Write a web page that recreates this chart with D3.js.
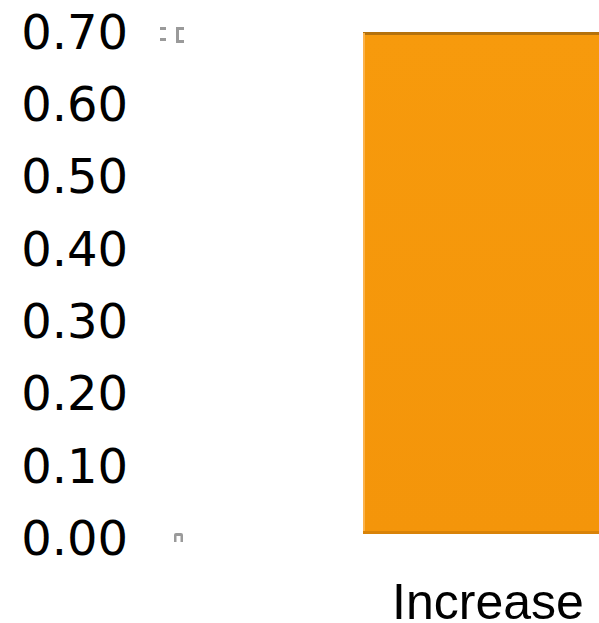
<!DOCTYPE html>
<html>
<head>
<meta charset="utf-8">
<script src="https://cdn.jsdelivr.net/npm/d3@7"></script>
<style>
  html, body { margin: 0; padding: 0; background: #fff; overflow: hidden; }
  svg { display: block; }
</style>
</head>
<body>
<svg id="chart" width="599" height="623"></svg>
<script>
// Data
const categories = ["Increase"];
const values = [0.70];
const tickValues = [0, 0.1, 0.2, 0.3, 0.4, 0.5, 0.6, 0.7];

const svg = d3.select("#chart");

// Bar scale and a slightly wider scale for the tick labels
const y = d3.scaleLinear().domain([0, 0.7]).range([533, 33]);
const yLabel = d3.scaleLinear().domain([0, 0.7]).range([542, 35.5]);
const x = d3.scaleBand().domain(categories).range([363, 613]).padding(0);

const defs = svg.append("defs");
const g = defs.append("linearGradient").attr("id", "barGrad").attr("x1", 0).attr("x2", 0).attr("y1", 0).attr("y2", 1);
g.append("stop").attr("offset", "0%").attr("stop-color", "#F79A0C");
g.append("stop").attr("offset", "100%").attr("stop-color", "#F4950A");

// Y axis labels
svg.append("g")
  .selectAll("text")
  .data(tickValues)
  .join("text")
  .attr("x", 128)
  .attr("y", d => yLabel(d))
  .attr("text-anchor", "end")
  .attr("dominant-baseline", "middle")
  .attr("font-family", "DejaVu Sans, Verdana, sans-serif")
  .attr("font-size", 48)
  .attr("fill", "#000")
  .text(d => d3.format(".2f")(d));

// Small clipped tick remnants near the axis
const marks = svg.append("g").attr("fill", "#9a9a9a");
const t = y(0.7), b = y(0);
marks.append("rect").attr("x", 160).attr("y", t - 6).attr("width", 6).attr("height", 3);
marks.append("rect").attr("x", 160).attr("y", t + 5).attr("width", 6).attr("height", 3);
marks.append("path").attr("d", `M176,${t - 6}h8v3h-5v10h5v3h-8z`);
marks.append("path").attr("d", `M174,${b + 9}v-7q0,-2 2,-2h5q2,0 2,2v7h-2.5v-6h-4v6z`);

// Bars
const bars = svg.append("g");
bars.selectAll("rect.bar")
  .data(values)
  .join("rect")
  .attr("class", "bar")
  .attr("x", (d, i) => x(categories[i]))
  .attr("y", d => y(d))
  .attr("width", x.bandwidth())
  .attr("height", d => y(0) - y(d))
  .attr("fill", "url(#barGrad)");

// top edge
bars.selectAll("rect.top")
  .data(values)
  .join("rect")
  .attr("class", "top")
  .attr("x", (d, i) => x(categories[i]))
  .attr("y", d => y(d) - 1)
  .attr("width", x.bandwidth())
  .attr("height", 3)
  .attr("fill", "#B5720C");
// left highlight
bars.selectAll("rect.left")
  .data(values)
  .join("rect")
  .attr("class", "left")
  .attr("x", (d, i) => x(categories[i]))
  .attr("y", d => y(d))
  .attr("width", 2)
  .attr("height", d => y(0) - y(d))
  .attr("fill", "#FBB24A");
// bottom shadow
bars.selectAll("rect.bottom")
  .data(values)
  .join("rect")
  .attr("class", "bottom")
  .attr("x", (d, i) => x(categories[i]))
  .attr("y", y(0) - 2)
  .attr("width", x.bandwidth())
  .attr("height", 3)
  .attr("fill", "#D98308");

// Category labels
svg.append("g")
  .selectAll("text")
  .data(categories)
  .join("text")
  .attr("x", d => x(d) + x.bandwidth() / 2)
  .attr("y", 619)
  .attr("text-anchor", "middle")
  .attr("font-family", "Liberation Sans, Arial, sans-serif")
  .attr("font-size", 50)
  .attr("fill", "#000")
  .text(d => d);
</script>
</body>
</html>
